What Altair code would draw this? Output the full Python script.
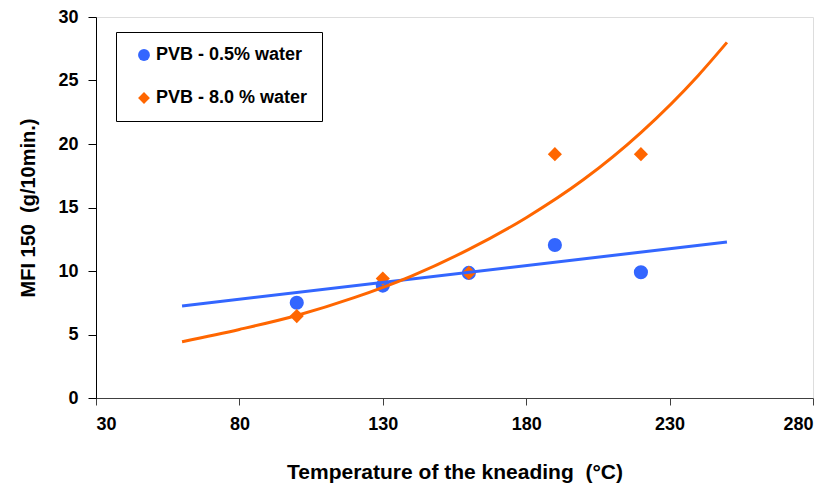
import altair as alt
import pandas as pd

temps = [100, 130, 160, 190, 220]
mfi_low_water = [7.5, 8.85, 9.85, 12.05, 9.9]
mfi_high_water = [6.45, 9.4, 9.85, 19.2, 19.2]
series_names = ["PVB - 0.5% water", "PVB - 8.0 % water"]
series_colors = ["#3366FF", "#FF6600"]
series_shapes = ["circle", "diamond"]

# Trend lines
trend_low_x = [60, 250]
trend_low_y = [7.25, 12.28]
trend_high_x = [60, 80, 100, 120, 140, 160, 180, 200, 220, 240, 250]
trend_high_y = [4.43, 5.4, 6.5, 7.9, 9.6, 11.7, 14.2, 17.2, 20.9, 25.4, 28.0]

x_ticks = [30, 80, 130, 180, 230, 280]
y_ticks = [0, 5, 10, 15, 20, 25, 30]

FONT = "Liberation Sans"
NB = "\u00a0"

points = pd.DataFrame(
    {
        "T": temps * 2,
        "MFI": mfi_low_water + mfi_high_water,
        "series": [series_names[0]] * len(temps) + [series_names[1]] * len(temps),
    }
)
trend_low = pd.DataFrame({"T": trend_low_x, "MFI": trend_low_y})
trend_high = pd.DataFrame({"T": trend_high_x, "MFI": trend_high_y})

x_enc = alt.X(
    "T:Q",
    scale=alt.Scale(domain=[30, 280], nice=False, zero=False),
    axis=alt.Axis(
        values=x_ticks,
        title="Temperature of the kneading " + NB + "(°C)",
        grid=False,
        tickSize=7,
        tickColor="#404040",
        domainColor="#404040",
        labelFontSize=18,
        labelFontWeight="bold",
        labelColor="black",
        labelFont=FONT,
        labelPadding=10,
        titleFont=FONT,
        titleFontSize=21,
        titleFontWeight="bold",
        titleColor="black",
        titlePadding=28,
    ),
)
y_enc = alt.Y(
    "MFI:Q",
    scale=alt.Scale(domain=[0, 30], nice=False),
    axis=alt.Axis(
        values=y_ticks,
        title="MFI 150 " + NB + "(g/10min.)",
        grid=False,
        tickSize=8,
        tickColor="black",
        domainColor="black",
        labelFontSize=18,
        labelFontWeight="bold",
        labelColor="black",
        labelFont=FONT,
        labelPadding=10,
        titleFont=FONT,
        titleFontSize=20,
        titleFontWeight="bold",
        titleColor="black",
        titlePadding=19,
    ),
)

color_scale = alt.Scale(domain=series_names, range=series_colors)
shape_scale = alt.Scale(domain=series_names, range=series_shapes)

legend = alt.Legend(
    title=None,
    orient="none",
    legendX=20,
    legendY=15,
    strokeColor="black",
    fillColor="white",
    padding=14,
    labelFont=FONT,
    labelFontSize=18,
    labelFontWeight="bold",
    labelColor="black",
    labelExpr="datum.label + '" + NB + NB + NB + "'",
    symbolSize=140,
    symbolStrokeWidth=0,
    rowPadding=25,
    labelOffset=3,
    symbolOffset=5,
)

pts = (
    alt.Chart(points)
    .mark_point(filled=True, size=200, opacity=1)
    .encode(
        x=x_enc,
        y=y_enc,
        color=alt.Color("series:N", scale=color_scale, legend=legend),
        shape=alt.Shape("series:N", scale=shape_scale, legend=legend),
    )
)

line_low = (
    alt.Chart(trend_low)
    .mark_line(color=series_colors[0], strokeWidth=3)
    .encode(x="T:Q", y="MFI:Q")
)
line_high = (
    alt.Chart(trend_high)
    .mark_line(color=series_colors[1], strokeWidth=3, interpolate="monotone")
    .encode(x="T:Q", y="MFI:Q")
)

chart = (
    alt.layer(pts, line_low, line_high)
    .properties(
        width=717,
        height=381,
        autosize=alt.AutoSizeParams(type="none"),
        padding={"left": 88, "top": 9, "right": 15, "bottom": 86},
    )
    .configure_view(stroke="black", strokeWidth=1)
    .configure(background="white")
)

chart.save("out.html", embed_options={"renderer": "svg", "actions": False})
